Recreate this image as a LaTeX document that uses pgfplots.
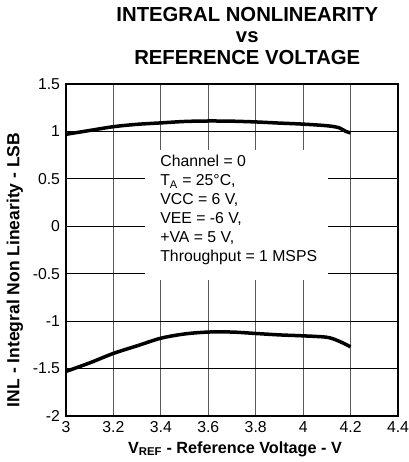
\documentclass[border=0pt]{standalone}
\usepackage{pgfplots}
\pgfplotsset{compat=1.18}
\usepackage{fontspec}
\setmainfont{Liberation Sans}
\begin{document}
\begin{tikzpicture}
\begin{axis}[
  name=ax,
  scale only axis,
  width=332bp, height=332bp,
  xmin=3, xmax=4.4, ymin=-2, ymax=1.5,
  xtick={3,3.2,3.4,3.6,3.8,4,4.2,4.4},
  ytick={-2,-1.5,-1,-0.5,0,0.5,1,1.5},
  xticklabels={3,3.2,3.4,3.6,3.8,4,4.2,4.4},
  yticklabels={-2,-1.5,-1,-0.5,0,0.5,1,1.5},
  major tick length=0pt,
  grid=major,
  x grid style={black!65, line width=1.1bp},
  y grid style={black, line width=0.9bp},
  axis line style={line width=2.8bp},
  tick label style={font=\fontsize{15.8bp}{18bp}\selectfont},
  xticklabel style={yshift=-2bp},
  yticklabel style={xshift=-2.5bp},
  xlabel={\textbf{V\textsubscript{REF} - Reference Voltage - V}},
  ylabel={\textbf{INL - Integral Non Linearity - LSB}},
  xlabel style={font=\fontsize{16.2bp}{18bp}\selectfont, at={(axis description cs:0.509,-0.1115)}, anchor=base},
  ylabel style={font=\fontsize{17.5bp}{18bp}\selectfont, at={(axis description cs:-0.1536,0.44)}, anchor=center},
  title={\textbf{INTEGRAL NONLINEARITY}\\\textbf{vs}\\\textbf{REFERENCE VOLTAGE}},
  title style={font=\fontsize{20.3bp}{21.5bp}\selectfont, align=center, at={(axis description cs:0.546,1.042)}, anchor=base, inner sep=0pt},
  clip=false,
]
\node[fill=white, inner sep=0pt, minimum width=183bp, minimum height=130bp, anchor=north west] at (axis cs:3.333,0.805) {};
\node[anchor=north west, align=left, font=\fontsize{15.8bp}{19bp}\selectfont, inner sep=0pt] at (axis cs:3.397,0.75) {Channel = 0\\T\textsubscript{A} = 25°C,\\VCC = 6 V,\\VEE = -6 V,\\+VA = 5 V,\\Throughput = 1 MSPS};
\addplot[black, line width=3.5bp, smooth] coordinates {
 (3.0,0.97) (3.1,1.01) (3.2,1.05) (3.3,1.075) (3.4,1.09) (3.5,1.105) (3.6,1.11) (3.7,1.108) (3.8,1.10) (3.9,1.088) (4.0,1.077) (4.1,1.06) (4.15,1.04) (4.18,1.0) (4.2,0.985)
};
\addplot[black, line width=3.5bp, smooth] coordinates {
 (3.0,-1.53) (3.1,-1.44) (3.2,-1.34) (3.3,-1.26) (3.4,-1.18) (3.5,-1.135) (3.6,-1.115) (3.7,-1.115) (3.8,-1.13) (3.9,-1.145) (4.0,-1.155) (4.1,-1.17) (4.15,-1.21) (4.2,-1.27)
};
\end{axis}
\pgfresetboundingbox
\path[use as bounding box] ([xshift=-66bp,yshift=-46bp]ax.south west) rectangle ([xshift=11bp,yshift=84bp]ax.north east);
\end{tikzpicture}
\end{document}
